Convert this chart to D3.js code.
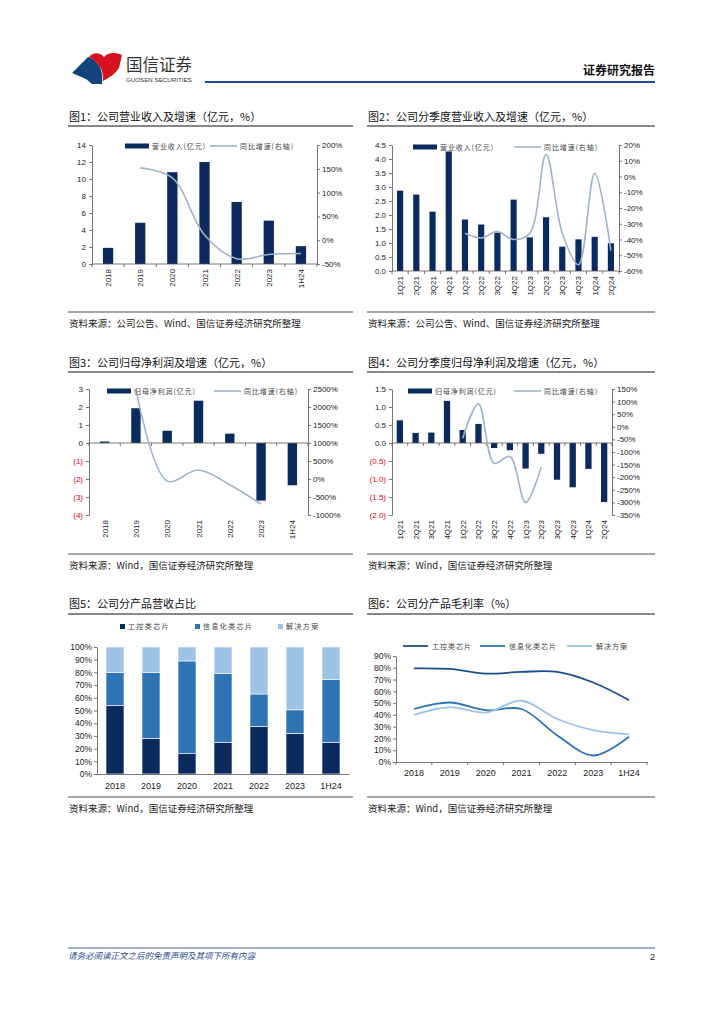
<!DOCTYPE html>
<html>
<head>
<meta charset="utf-8">
<script src="https://cdn.jsdelivr.net/npm/d3@7"></script>
<style>
  body{ margin:0; background:#fff; }
  svg{ display:block; }
</style>
</head>
<body>
<svg id="page" width="724" height="1024"></svg>
<script>
// ---- data ----
const years = ["2018", "2019", "2020", "2021", "2022", "2023", "1H24"];
const quarters = ["1Q21","2Q21","3Q21","4Q21","1Q22","2Q22","3Q22","4Q22","1Q23","2Q23","3Q23","4Q23","1Q24","2Q24"];

const revenue    = [1.9, 4.85, 10.8, 12.0, 7.3, 5.1, 2.1];
const revenueYoY = [null, 152, 131, 11, -39, -30, -28];

const qRevenue    = [2.87, 2.73, 2.12, 4.27, 1.84, 1.66, 1.37, 2.55, 1.2, 1.92, 0.87, 1.13, 1.22, 0.99];
const qRevenueYoY = [null, null, null, null, -36, -39, -35, -40, -36, 14, -36, -56, 2, -47];

const profit    = [0.08, 1.93, 0.68, 2.35, 0.52, -3.2, -2.35];
const profitYoY = [null, 2480, -55, 250, -160, -700, null];

const qProfit    = [0.63, 0.28, 0.29, 1.17, 0.36, 0.53, -0.14, -0.2, -0.71, -0.3, -1.02, -1.23, -0.72, -1.64];
const qProfitYoY = [null, null, null, null, -45, 91, -145, -118, -300, -160, null, null, null, null];

const products = ["工控类芯片", "信息化类芯片", "解决方案"];
const mixIndustrial = [54, 28, 16, 25, 37.5, 32, 25];
const mixInfo       = [26, 52, 73, 54, 25.5, 18.5, 49.5];
const mixSolution   = [20, 20, 11, 21, 37, 49.5, 25.5];

const gmIndustrial = [79.5, 79, 75, 76.5, 76.5, 67.5, 52.5];
const gmInfo       = [45, 50.5, 44, 45, 22.5, 5.5, 21.5];
const gmSolution   = [40, 46.5, 42, 52, 36.5, 27, 23.5];

const src1 = "资料来源：公司公告、Wind、国信证券经济研究所整理";
const src2 = "资料来源：Wind，国信证券经济研究所整理";

// ---- styles ----
var CN = "'Noto Sans CJK SC', sans-serif",
    NUM = "'Liberation Sans', Arial, sans-serif",
    navy = "#0b2b5e",
    growthCol = "#9fb3c9",
    red = "#e8001c",
    prodCols = ["#0b2b5e", "#2e74b5", "#9dc3e6"],
    gmCols = ["#1f4e8c", "#2e74b5", "#9dc3e6"];

var svg = d3.select("#page");

// ---- header ----
svg.append("path")
  .attr("d", "M72 73 L88 57 C97 60 104 68 102 84 L92 84 L86 79 Z")
  .attr("fill", "#12437a");
svg.append("path")
  .attr("d", "M89 57 C93 52 100 52 104 57 C108 52 116 52 122 55 L119 68 C115 74 109 78 103 81 C104 71 99 62 89 57 Z")
  .attr("fill", "#d6121f");
svg.append("text").attr("x", 126).attr("y", 71)
  .attr("font-family", CN).attr("font-size", 16.5).attr("fill", "#333").text("国信证券");
svg.append("text").attr("x", 126).attr("y", 81.5)
  .attr("font-family", NUM).attr("font-size", 6.2).attr("fill", "#333").text("GUOSEN SECURITIES");
svg.append("text").attr("x", 655).attr("y", 75).attr("text-anchor", "end")
  .attr("font-family", CN).attr("font-size", 12).attr("font-weight", "bold").attr("fill", "#111").text("证券研究报告");
svg.append("line").attr("x1", 205).attr("x2", 655).attr("y1", 82).attr("y2", 82)
  .attr("stroke", "#1f4e8c").attr("stroke-width", 2);

// ---- footer ----
svg.append("line").attr("x1", 68).attr("x2", 655).attr("y1", 948).attr("y2", 948)
  .attr("stroke", "#3a6596").attr("stroke-width", 1);
svg.append("text").attr("x", 68).attr("y", 959)
  .attr("font-family", CN).attr("font-size", 8.5).attr("font-style", "italic").attr("fill", "#1f4e8c")
  .text("请务必阅读正文之后的免责声明及其项下所有内容");
svg.append("text").attr("x", 655).attr("y", 960).attr("text-anchor", "end")
  .attr("font-family", NUM).attr("font-size", 9).attr("fill", "#222").text("2");

// title, underline, source line and text of one panel
function frame(x0, x1, titleY, ruleY, srcRuleY, title, src) {
  svg.append("text").attr("x", x0 + 1).attr("y", titleY)
    .attr("font-family", CN).attr("font-size", 11).attr("fill", "#111").text(title);
  svg.append("line").attr("x1", x0).attr("x2", x1).attr("y1", ruleY).attr("y2", ruleY)
    .attr("stroke", "#111").attr("stroke-width", 1.2);
  svg.append("line").attr("x1", x0).attr("x2", x1).attr("y1", srcRuleY).attr("y2", srcRuleY)
    .attr("stroke", "#a6a6a6").attr("stroke-width", 2);
  svg.append("text").attr("x", x0 + 1).attr("y", srcRuleY + 15)
    .attr("font-family", CN).attr("font-size", 9.5).attr("fill", "#222").text(src);
}

function styleAxis(g, size) {
  g.selectAll("path, line").attr("stroke", "#555").attr("stroke-width", 0.8);
  g.selectAll("text").attr("font-family", NUM).attr("font-size", size || 8).attr("fill", "#222");
}

function legendText(x, y, t, sp) {
  svg.append("text").attr("x", x).attr("y", y + 2.5)
    .attr("font-family", CN).attr("font-size", 7).attr("letter-spacing", sp)
    .attr("fill", "#444").text(t);
}

// bar + growth line chart (figures 1-4)
function combo(o) {
  var g = svg.append("g");
  var x = d3.scaleBand().domain(o.cats).range([o.x0, o.x1])
    .paddingInner(o.pad).paddingOuter(o.pad / 2);
  var yL = d3.scaleLinear().domain(o.left).range([o.yB, o.yT]);
  var yR = d3.scaleLinear().domain(o.right).range([o.yB, o.yT]);
  var cx = function(c){ return x(c) + x.bandwidth() / 2; };

  g.selectAll("rect").data(o.cats).join("rect")
    .attr("x", function(c){ return x(c); })
    .attr("width", x.bandwidth())
    .attr("y", function(c, i){ return yL(Math.max(0, o.bars[i])); })
    .attr("height", function(c, i){ return Math.abs(yL(o.bars[i]) - yL(0)); })
    .attr("fill", navy);

  var la = g.append("g").attr("transform", "translate(" + o.x0 + ",0)")
    .call(d3.axisLeft(yL)
      .tickValues(d3.range(o.left[0], o.left[1] + 1e-9, o.lstep))
      .tickSize(3).tickSizeOuter(0).tickPadding(3).tickFormat(o.lfmt));
  styleAxis(la);
  la.selectAll("text").attr("fill", function(d){ return d < -1e-9 ? red : "#222"; });

  var ra = g.append("g").attr("transform", "translate(" + o.x1 + ",0)")
    .call(d3.axisRight(yR)
      .tickValues(d3.range(o.right[0], o.right[1] + 1e-9, o.rstep))
      .tickSize(3).tickSizeOuter(0).tickPadding(2).tickFormat(function(d){ return d + "%"; }));
  styleAxis(ra);

  // category axis on the zero line, ticks between categories
  var zy = yL(0);
  g.append("line").attr("x1", o.x0).attr("x2", o.x1).attr("y1", zy).attr("y2", zy)
    .attr("stroke", "#555").attr("stroke-width", 0.8);
  g.selectAll("line.bt").data(d3.range(o.cats.length + 1)).join("line")
    .attr("class", "bt")
    .attr("x1", function(i){ return o.x0 + i * x.step(); })
    .attr("x2", function(i){ return o.x0 + i * x.step(); })
    .attr("y1", zy).attr("y2", zy + 3)
    .attr("stroke", "#555").attr("stroke-width", 0.8);

  g.selectAll("text.cat").data(o.cats).join("text")
    .attr("class", "cat")
    .attr("transform", function(c){ return "translate(" + (cx(c) + 3) + "," + o.labelY + ") rotate(-90)"; })
    .attr("text-anchor", "end")
    .attr("font-family", NUM).attr("font-size", 8).attr("fill", "#222")
    .text(function(c){ return c; });

  var pts = o.cats.map(function(c, i){ return {c: c, v: o.growth[i]}; })
    .filter(function(d){ return d.v !== null; });
  g.append("path").datum(pts)
    .attr("d", d3.line()
      .x(function(d){ return cx(d.c); })
      .y(function(d){ return yR(d.v); })
      .curve(d3.curveCatmullRom))
    .attr("fill", "none").attr("stroke", growthCol).attr("stroke-width", 1.6);

  // legend
  var ly = o.legend.y;
  g.append("rect").attr("x", o.legend.bx).attr("y", ly - 2.5).attr("width", 24).attr("height", 5).attr("fill", navy);
  legendText(o.legend.bx + 27, ly, o.barName, 0.9);
  g.append("line").attr("x1", o.legend.lx).attr("x2", o.legend.lx + 27).attr("y1", ly).attr("y2", ly)
    .attr("stroke", growthCol).attr("stroke-width", 1.6);
  legendText(o.legend.lx + 30, ly, "同比增速(右轴)", 0.9);
}

// ---- figure 1 ----
frame(68, 353, 121, 126, 312, "图1：公司营业收入及增速（亿元，%）", src1);
combo({
  cats: years, bars: revenue, growth: revenueYoY,
  x0: 92, x1: 317, yT: 145, yB: 264, pad: 0.68,
  left: [0, 14], lstep: 2, lfmt: function(d){ return d; },
  right: [-50, 200], rstep: 50,
  labelY: 269, barName: "营业收入(亿元)",
  legend: {bx: 125, lx: 210, y: 146}
});

// ---- figure 2 ----
frame(367, 655, 121, 126, 312, "图2：公司分季度营业收入及增速（亿元，%）", src1);
combo({
  cats: quarters, bars: qRevenue, growth: qRevenueYoY,
  x0: 392, x1: 619, yT: 145, yB: 271, pad: 0.62,
  left: [0, 4.5], lstep: 0.5, lfmt: d3.format(".1f"),
  right: [-60, 20], rstep: 10,
  labelY: 276, barName: "营业收入(亿元)",
  legend: {bx: 413, lx: 514, y: 147}
});

// ---- figure 3 ----
frame(68, 353, 367, 372, 554, "图3：公司归母净利润及增速（亿元，%）", src2);
combo({
  cats: years, bars: profit, growth: profitYoY,
  x0: 89, x1: 308, yT: 389, yB: 515, pad: 0.7,
  left: [-4, 3], lstep: 1, lfmt: function(d){ return d < 0 ? "(" + (-d) + ")" : d; },
  right: [-1000, 2500], rstep: 500,
  labelY: 520, barName: "归母净利润(亿元)",
  legend: {bx: 107, lx: 214, y: 391}
});

// ---- figure 4 ----
frame(367, 655, 367, 372, 554, "图4：公司分季度归母净利润及增速（亿元，%）", src2);
combo({
  cats: quarters, bars: qProfit, growth: qProfitYoY,
  x0: 392, x1: 612, yT: 389, yB: 515, pad: 0.6,
  left: [-2, 1.5], lstep: 0.5,
  lfmt: function(d){ return d < -1e-9 ? "(" + d3.format(".1f")(-d) + ")" : d3.format(".1f")(Math.abs(d)); },
  right: [-350, 150], rstep: 50,
  labelY: 520, barName: "归母净利润(亿元)",
  legend: {bx: 408, lx: 514, y: 391}
});

// ---- figure 5: revenue mix ----
frame(68, 353, 608, 614, 797, "图5：公司分产品营收占比", src2);
(function(){
  var rows = years.map(function(y, i){
    return {year: y, a: mixIndustrial[i] / 100, b: mixInfo[i] / 100, c: mixSolution[i] / 100};
  });
  var keys = ["a", "b", "c"];
  var series = d3.stack().keys(keys)(rows);
  var x = d3.scaleBand().domain(years).range([97, 349]).paddingInner(0.5).paddingOuter(0.25);
  var y = d3.scaleLinear().domain([0, 1]).range([774, 647]);
  var g = svg.append("g");

  g.selectAll("g.s").data(series).join("g").attr("class", "s")
    .attr("fill", function(d, i){ return prodCols[i]; })
    .selectAll("rect").data(function(d){ return d; }).join("rect")
    .attr("x", function(d){ return x(d.data.year); })
    .attr("width", x.bandwidth())
    .attr("y", function(d){ return y(d[1]); })
    .attr("height", function(d){ return y(d[0]) - y(d[1]); })
    .attr("stroke", "#fff").attr("stroke-width", 0.6);

  var ya = g.append("g").attr("transform", "translate(97,0)")
    .call(d3.axisLeft(y).ticks(10).tickSize(3).tickSizeOuter(0).tickPadding(2).tickFormat(d3.format(".0%")));
  styleAxis(ya, 8.5);

  var xa = g.append("g").attr("transform", "translate(0,774)")
    .call(d3.axisBottom(x).tickSize(0).tickPadding(9));
  styleAxis(xa, 9);

  var lg = g.selectAll("g.lg").data(products).join("g").attr("class", "lg");
  var lx = [120, 195, 278];
  lg.append("rect").attr("x", function(d, i){ return lx[i]; }).attr("y", 624)
    .attr("width", 5).attr("height", 5).attr("fill", function(d, i){ return prodCols[i]; });
  products.forEach(function(p, i){ legendText(lx[i] + 8, 626.5, p, 1.4); });
})();

// ---- figure 6: gross margin ----
frame(367, 655, 608, 614, 797, "图6：公司分产品毛利率（%）", src2);
(function(){
  var x = d3.scaleBand().domain(years).range([396, 647]);
  var y = d3.scaleLinear().domain([0, 90]).range([762, 656]);
  var g = svg.append("g");
  var cx = function(c){ return x(c) + x.bandwidth() / 2; };

  var ya = g.append("g").attr("transform", "translate(396,0)")
    .call(d3.axisLeft(y).tickValues(d3.range(0, 91, 10)).tickSize(3).tickSizeOuter(0).tickPadding(2)
      .tickFormat(function(d){ return d + "%"; }));
  styleAxis(ya, 8.5);

  var xa = g.append("g").attr("transform", "translate(0,762)")
    .call(d3.axisBottom(x).tickSize(0).tickPadding(8));
  styleAxis(xa, 9);
  g.selectAll("line.bt").data(d3.range(years.length + 1)).join("line")
    .attr("class", "bt")
    .attr("x1", function(i){ return 396 + i * x.step(); })
    .attr("x2", function(i){ return 396 + i * x.step(); })
    .attr("y1", 762).attr("y2", 765)
    .attr("stroke", "#555").attr("stroke-width", 0.8);

  var lines = [gmIndustrial, gmInfo, gmSolution];
  var line = d3.line()
    .x(function(d, i){ return cx(years[i]); })
    .y(function(d){ return y(d); })
    .curve(d3.curveCatmullRom);
  g.selectAll("path.gm").data(lines).join("path").attr("class", "gm")
    .attr("d", line).attr("fill", "none")
    .attr("stroke", function(d, i){ return gmCols[i]; }).attr("stroke-width", 1.8);

  var lx = [403, 480, 567];
  g.selectAll("line.lg").data(products).join("line").attr("class", "lg")
    .attr("x1", function(d, i){ return lx[i]; }).attr("x2", function(d, i){ return lx[i] + 25; })
    .attr("y1", 646).attr("y2", 646)
    .attr("stroke", function(d, i){ return gmCols[i]; }).attr("stroke-width", 1.8);
  products.forEach(function(p, i){ legendText(lx[i] + 29, 646, p, 1.0); });
})();
</script>
</body>
</html>
